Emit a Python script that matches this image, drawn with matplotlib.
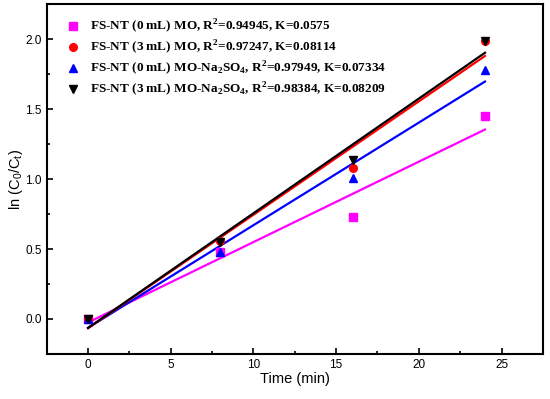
import numpy as np
import matplotlib
matplotlib.use("Agg")
import matplotlib.pyplot as plt

plt.rcParams['mathtext.fontset'] = 'custom'
plt.rcParams['mathtext.rm'] = 'Liberation Serif:bold'
plt.rcParams['mathtext.bf'] = 'Liberation Serif:bold'
plt.rcParams['mathtext.sf'] = 'Liberation Sans'
plt.rcParams['font.family'] = ['Liberation Sans', 'DejaVu Sans']

time = [0, 8, 16, 24]
s_fs0_mo = [0.0, 0.48, 0.73, 1.45]
s_fs3_mo = [0.0, 0.56, 1.08, 1.99]
s_fs0_na = [0.0, 0.48, 1.01, 1.78]
s_fs3_na = [0.0, 0.55, 1.14, 1.99]

labels = [
    r'FS-NT (0 mL) MO, R$^\mathrm{2}$=0.94945, K=0.0575',
    r'FS-NT (3 mL) MO, R$^\mathrm{2}$=0.97247, K=0.08114',
    r'FS-NT (0 mL) MO-Na$_\mathrm{2}$SO$_\mathrm{4}$, R$^\mathrm{2}$=0.97949, K=0.07334',
    r'FS-NT (3 mL) MO-Na$_\mathrm{2}$SO$_\mathrm{4}$, R$^\mathrm{2}$=0.98384, K=0.08209',
]
colors = ['#ff00ff', '#ff0000', '#0000ff', '#000000']
markers = ['s', 'o', '^', 'v']
series = [s_fs0_mo, s_fs3_mo, s_fs0_na, s_fs3_na]

fig = plt.figure(figsize=(5.5, 3.99), dpi=100)
ax = fig.add_axes([0.085, 0.113, 0.902, 0.876])

t = np.array(time, dtype=float)
handles = []
order = [0, 2, 1, 3]
for i in order:
    y = np.array(series[i])
    k, b = np.polyfit(t, y, 1)
    ax.plot([t[0], t[-1]], [b + k * t[0], b + k * t[-1]], color=colors[i], lw=1.6, zorder=2)
for i in range(4):
    h, = ax.plot(time, series[i], linestyle='none', marker=markers[i], color=colors[i],
                 markersize=5.5, zorder=3, label=labels[i])
    handles.append(h)

ax.set_xlim(-2.5, 27.5)
ax.set_ylim(-0.25, 2.25)
ax.set_xticks([0, 5, 10, 15, 20, 25])
ax.set_yticks([0.0, 0.5, 1.0, 1.5, 2.0])
ax.set_yticklabels(['0.0', '0.5', '1.0', '1.5', '2.0'])
ax.set_xticks(np.arange(2.5, 27.5, 5), minor=True)
ax.set_yticks(np.arange(-0.25, 2.26, 0.5), minor=True)
ax.tick_params(which='both', direction='in', labelsize=8.5, width=1.2)
ax.tick_params(which='major', length=4)
ax.tick_params(which='minor', length=2.5)
for s in ax.spines.values():
    s.set_linewidth(1.5)

ax.set_xlabel('Time (min)', fontsize=10.5, labelpad=1)
ax.set_ylabel(r'ln (C$_\mathsf{0}$/C$_\mathsf{t}$)', fontsize=10.5, labelpad=0)

leg = ax.legend(handles=handles, loc='upper left', frameon=False,
                prop={'family': 'Liberation Serif', 'weight': 'bold', 'size': 9.5},
                handletextpad=0.3, labelspacing=0.25, borderaxespad=0.6,
                bbox_to_anchor=(0.0, 1.0))

fig.savefig('out.png', dpi=100)
